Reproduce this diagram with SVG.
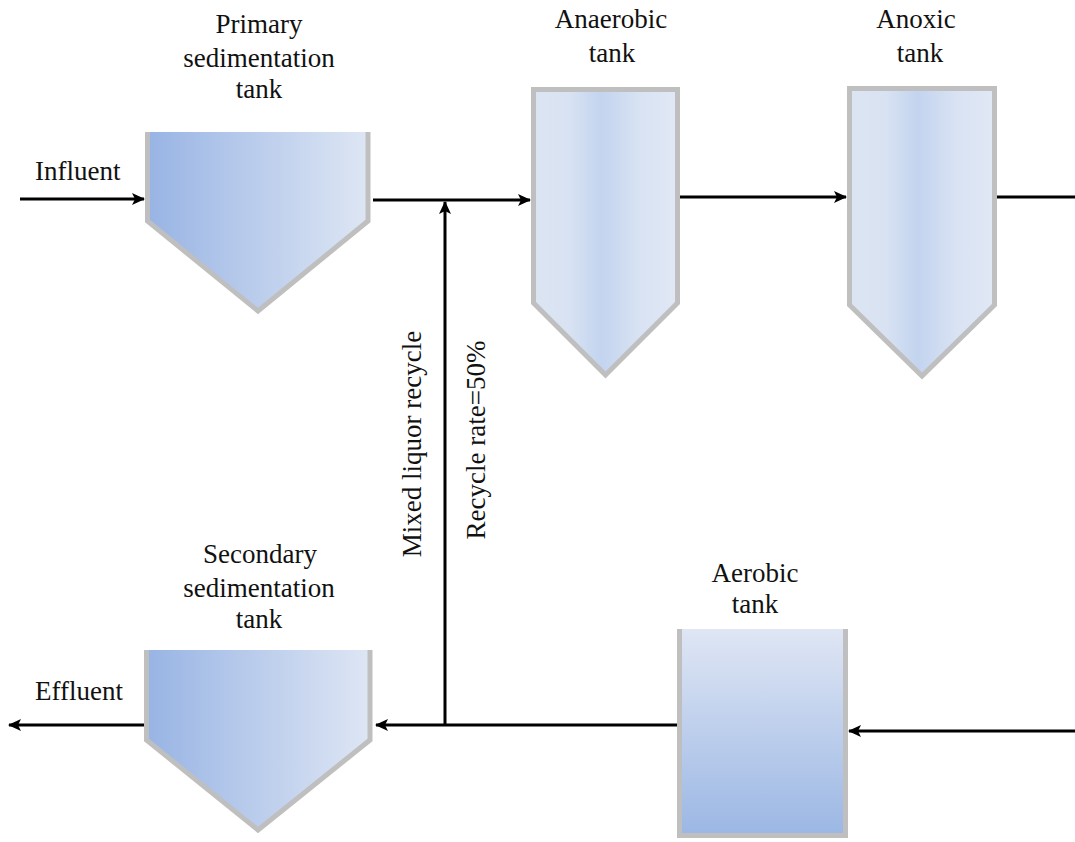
<svg xmlns="http://www.w3.org/2000/svg" width="1075" height="842" viewBox="0 0 1075 842">
<style>
text{font-family:"Liberation Serif","Times New Roman",serif;font-size:27px;fill:#111;}
.c{text-anchor:middle;}
.wall{stroke:#bfbfbf;stroke-width:5;stroke-linejoin:miter;}
.open{fill:none;}
.ln{fill:none;stroke:#000;stroke-width:3;}
</style>
<defs>
<linearGradient id="gSed" x1="0" y1="0" x2="1" y2="0">
<stop offset="0" stop-color="#98b4e4"/>
<stop offset="1" stop-color="#dee6f4"/>
</linearGradient>
<linearGradient id="gTall" x1="0" y1="0" x2="1" y2="0">
<stop offset="0" stop-color="#dbe5f2"/>
<stop offset="0.25" stop-color="#d8e2f2"/>
<stop offset="0.47" stop-color="#c3d4ef"/>
<stop offset="0.75" stop-color="#d9e3f3"/>
<stop offset="1" stop-color="#e1e8f5"/>
</linearGradient>
<linearGradient id="gAer" x1="0" y1="0" x2="0" y2="1">
<stop offset="0" stop-color="#dfe6f4"/>
<stop offset="1" stop-color="#9bb7e4"/>
</linearGradient>
<marker id="ah" markerUnits="userSpaceOnUse" markerWidth="14" markerHeight="12" refX="12" refY="6" orient="auto">
<path d="M0,0 L13,6 L0,12 L3,6 z" fill="#000"/>
</marker>
</defs>

<g id="primary-tank">
<polygon points="147.5,132 368,132 368,221 258,311 147.5,221" fill="url(#gSed)"/>
<polyline class="wall open" points="147.5,132 147.5,221 258,311 368,221 368,132"/>
<text class="c" x="259" y="33">Primary</text>
<text class="c" x="259" y="67">sedimentation</text>
<text class="c" x="259" y="98">tank</text>
</g>

<g id="anaerobic-tank">
<polygon class="wall" points="533.5,89.5 677.5,89.5 677.5,303 605.5,375 533.5,303" fill="url(#gTall)"/>
<text class="c" x="611" y="28">Anaerobic</text>
<text class="c" x="612" y="62">tank</text>
</g>

<g id="anoxic-tank">
<polygon class="wall" points="849.5,88.5 994.5,88.5 994.5,305 922,376 849.5,305" fill="url(#gTall)"/>
<text class="c" x="916" y="28">Anoxic</text>
<text class="c" x="920" y="62">tank</text>
</g>

<g id="aerobic-tank">
<rect x="679.5" y="629" width="166" height="206.5" fill="url(#gAer)"/>
<polyline class="wall open" points="679.5,629 679.5,835.5 845.5,835.5 845.5,629"/>
<text class="c" x="755" y="582">Aerobic</text>
<text class="c" x="755" y="613">tank</text>
</g>

<g id="secondary-tank">
<polygon points="146.5,650 370,650 370,740 258,830 146.5,740" fill="url(#gSed)"/>
<polyline class="wall open" points="146.5,650 146.5,740 258,830 370,740 370,650"/>
<text class="c" x="260" y="563">Secondary</text>
<text class="c" x="259" y="597">sedimentation</text>
<text class="c" x="259" y="628">tank</text>
</g>

<g id="connectors">
<line class="ln" x1="20" y1="199" x2="144" y2="199" marker-end="url(#ah)"/>
<line class="ln" x1="373" y1="200" x2="530" y2="200" marker-end="url(#ah)"/>
<line class="ln" x1="680" y1="197" x2="846" y2="197" marker-end="url(#ah)"/>
<line class="ln" x1="997" y1="197" x2="1075" y2="197"/>
<line class="ln" x1="1075" y1="731" x2="849" y2="731" marker-end="url(#ah)"/>
<line class="ln" x1="677" y1="725" x2="376" y2="725" marker-end="url(#ah)"/>
<line class="ln" x1="445" y1="725" x2="445" y2="202" marker-end="url(#ah)"/>
<line class="ln" x1="144" y1="725" x2="9" y2="725" marker-end="url(#ah)"/>
</g>

<g id="labels">
<text x="35" y="180">Influent</text>
<text x="35" y="700">Effluent</text>
<text class="c" transform="translate(421,444) rotate(-90)">Mixed liquor recycle</text>
<text class="c" transform="translate(485,440) rotate(-90)">Recycle rate=50%</text>
</g>
</svg>
